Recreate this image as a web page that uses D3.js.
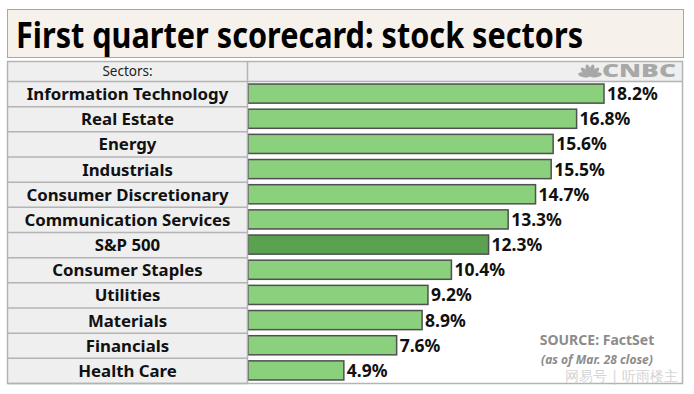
<!DOCTYPE html>
<html>
<head>
<meta charset="utf-8">
<script src="https://cdn.jsdelivr.net/npm/d3@7"></script>
<style>
  body { margin: 0; background: #fff; }
  text { font-family: "Noto Sans", "Open Sans", sans-serif; }
</style>
</head>
<body>
<div id="chart"></div>
<script>
// data
const sectors = ["Information Technology", "Real Estate", "Energy", "Industrials",
  "Consumer Discretionary", "Communication Services", "S&P 500", "Consumer Staples",
  "Utilities", "Materials", "Financials", "Health Care"];
const returns = [18.2, 16.8, 15.6, 15.5, 14.7, 13.3, 12.3, 10.4, 9.2, 8.9, 7.6, 4.9];
const highlight = "S&P 500";

const W = 694, H = 394;
const svg = d3.select("#chart").append("svg")
    .attr("width", W).attr("height", H);

// title box
svg.append("rect")
    .attr("x", 7.5).attr("y", 9.5).attr("width", 676).attr("height", 48)
    .attr("fill", "#f7f1ec").attr("stroke", "#aca79d");
svg.append("text")
    .attr("x", 16).attr("y", 48)
    .attr("font-size", 36).attr("font-weight", "bold")
    .attr("textLength", 567).attr("lengthAdjust", "spacingAndGlyphs")
    .text("First quarter scorecard: stock sectors");

// table area
const table = {left: 8, top: 61, right: 682, bottom: 383, labelW: 239, headH: 20};
const barX0 = table.left + table.labelW + 1;

const y = d3.scaleBand()
    .domain(sectors)
    .range([table.top + table.headH, table.bottom])
    .paddingInner(0.24)
    .paddingOuter(0.12);
const rowH = (table.bottom - table.top - table.headH) / sectors.length;

const x = d3.scaleLinear()
    .domain([0, 18.2])
    .range([barX0, 604]);

// label column background
svg.append("rect")
    .attr("x", table.left).attr("y", table.top)
    .attr("width", table.labelW).attr("height", table.bottom - table.top)
    .attr("fill", "#efefef");
// header strip right side
svg.append("rect")
    .attr("x", table.left + table.labelW).attr("y", table.top)
    .attr("width", table.right - table.left - table.labelW).attr("height", table.headH)
    .attr("fill", "#efefef");

// row lines in label column
svg.selectAll(".rowline")
    .data(d3.range(sectors.length + 1))
    .join("line")
    .attr("class", "rowline")
    .attr("x1", table.left).attr("x2", d => d === 0 ? table.right : table.left + table.labelW)
    .attr("y1", d => table.top + table.headH + d * rowH + 0.5)
    .attr("y2", d => table.top + table.headH + d * rowH + 0.5)
    .attr("stroke", "#b4b4b4").attr("stroke-width", 1.5);

svg.append("text")
    .attr("x", table.left + table.labelW / 2).attr("y", table.top + 15)
    .attr("text-anchor", "middle").attr("font-size", 13.5).attr("fill", "#222")
    .text("Sectors:");

// CNBC logo (grey)
const logo = svg.append("g").attr("transform", "translate(581,63)").attr("fill", "#a8a8a8");
d3.range(6).forEach(i => {
  const a = -80 + i * 32;
  logo.append("ellipse")
      .attr("cx", 9).attr("cy", 11).attr("rx", 2.4).attr("ry", 6)
      .attr("transform", `rotate(${a},9,13) translate(0,-4)`);
});
logo.append("text")
    .attr("x", 21).attr("y", 14).attr("font-size", 17).attr("font-weight", 900)
    .attr("font-family", "'DejaVu Sans', sans-serif")
    .attr("textLength", 74).attr("lengthAdjust", "spacingAndGlyphs")
    .text("CNBC");

// sector labels
svg.selectAll(".lab")
    .data(sectors)
    .join("text")
    .attr("class", "lab")
    .attr("x", table.left + table.labelW / 2)
    .attr("y", d => y(d) + y.bandwidth() / 2 + 6.5)
    .attr("text-anchor", "middle")
    .attr("font-size", 16.8).attr("font-weight", "bold").attr("fill", "#111")
    .text(d => d);

// bars
svg.selectAll(".bar")
    .data(sectors)
    .join("rect")
    .attr("class", "bar")
    .attr("x", barX0)
    .attr("y", d => y(d))
    .attr("width", (d, i) => x(returns[i]) - barX0)
    .attr("height", y.bandwidth())
    .attr("fill", d => d === highlight ? "#5aa250" : "#8bd07d")
    .attr("stroke", "#505050").attr("stroke-width", 1.5);

// value labels
svg.selectAll(".val")
    .data(sectors)
    .join("text")
    .attr("class", "val")
    .attr("x", (d, i) => x(returns[i]) + 3)
    .attr("y", d => y(d) + y.bandwidth() / 2 + 6.5)
    .attr("font-size", 17.5).attr("font-weight", "bold").attr("fill", "#111")
    .text((d, i) => returns[i].toFixed(1) + "%");

// divider between label column and bars
svg.append("line")
    .attr("x1", table.left + table.labelW + 0.5).attr("x2", table.left + table.labelW + 0.5)
    .attr("y1", table.top).attr("y2", table.bottom)
    .attr("stroke", "#b4b4b4").attr("stroke-width", 1.5);

// outer border of table
svg.append("rect")
    .attr("x", table.left - 0.5).attr("y", table.top + 0.5)
    .attr("width", table.right - table.left + 1).attr("height", table.bottom - table.top)
    .attr("fill", "none").attr("stroke", "#b4b4b4").attr("stroke-width", 1.5);

// source note
svg.append("text")
    .attr("x", 597).attr("y", 345).attr("text-anchor", "middle")
    .attr("font-size", 14).attr("font-weight", "bold").attr("fill", "#8c8c8c")
    .text("SOURCE: FactSet");
svg.append("text")
    .attr("x", 597).attr("y", 364).attr("text-anchor", "middle")
    .attr("font-size", 12).attr("font-style", "italic").attr("font-weight", "bold").attr("fill", "#8c8c8c")
    .text("(as of Mar. 28 close)");

// watermark
svg.append("text")
    .attr("x", 678).attr("y", 381).attr("text-anchor", "end")
    .attr("font-size", 14).attr("font-family", "'Noto Sans CJK SC', sans-serif")
    .attr("fill", "#c8c8c8").attr("fill-opacity", 0.8)
    .text("网易号 | 听雨楼主");
</script>
</body>
</html>
